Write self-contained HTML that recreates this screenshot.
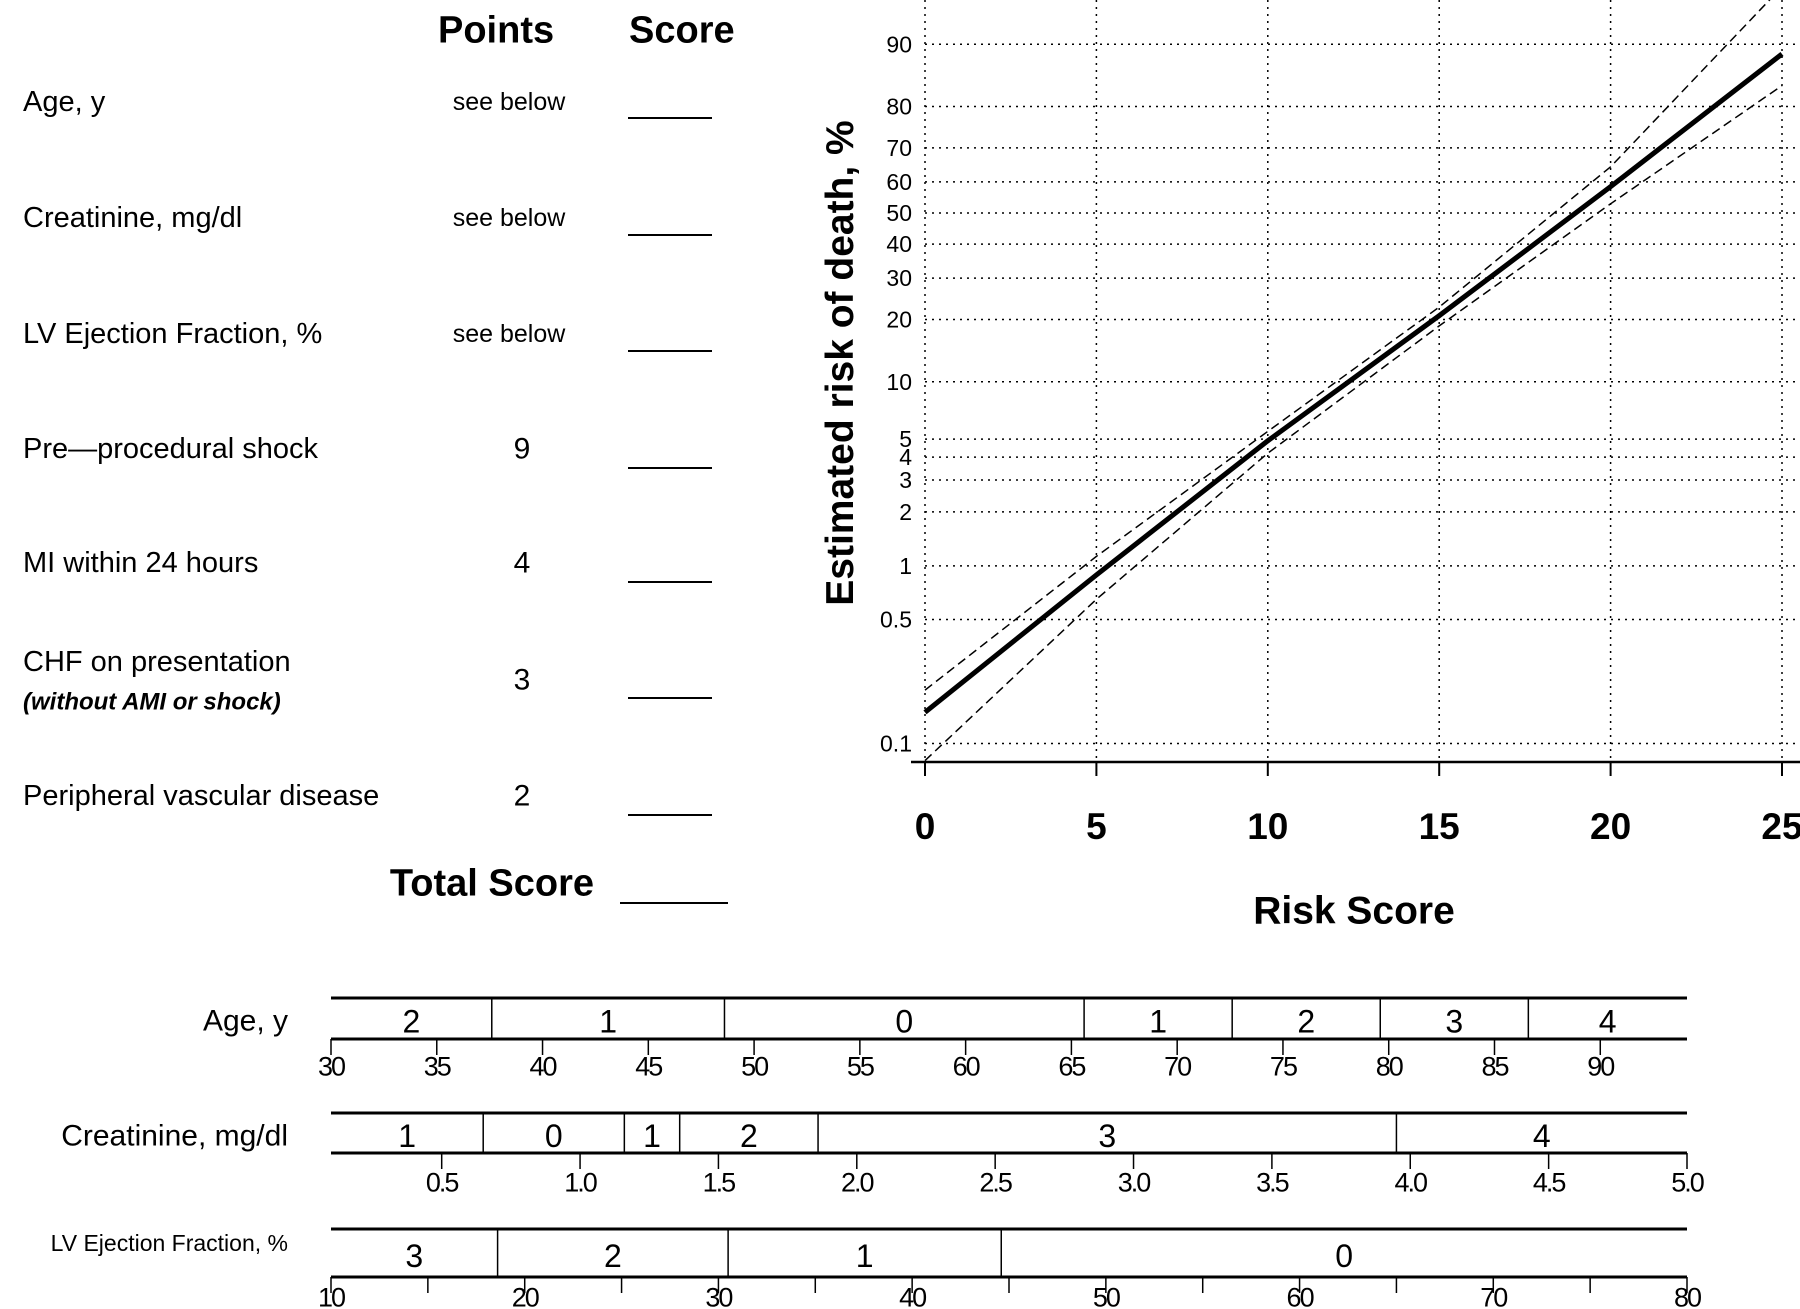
<!DOCTYPE html>
<html><head><meta charset="utf-8"><style>
html,body{margin:0;padding:0;background:#fff;}
svg{display:block;font-family:"Liberation Sans",sans-serif;}
</style></head><body>
<svg id="fig" width="1800" height="1309" viewBox="0 0 1800 1309" xmlns="http://www.w3.org/2000/svg">
<g id="table" fill="#000">
  <text x="438" y="29" dy="0.35em" font-size="38" font-weight="bold">Points</text>
  <text x="629" y="29" dy="0.35em" font-size="38" font-weight="bold">Score</text>
  <text x="23" y="101" dy="0.35em" font-size="29">Age, y</text>
  <text x="23" y="217" dy="0.35em" font-size="29">Creatinine, mg/dl</text>
  <text x="23" y="333" dy="0.35em" font-size="29">LV Ejection Fraction, %</text>
  <text x="23" y="448" dy="0.35em" font-size="29">Pre—procedural shock</text>
  <text x="23" y="562" dy="0.35em" font-size="29">MI within 24 hours</text>
  <text x="23" y="661" dy="0.35em" font-size="29">CHF on presentation</text>
  <text x="23" y="701" dy="0.35em" font-size="24" font-weight="bold" font-style="italic">(without AMI or shock)</text>
  <text x="23" y="795" dy="0.35em" font-size="29">Peripheral vascular disease</text>
  <g font-size="25" text-anchor="middle">
    <text x="509" y="101" dy="0.35em">see below</text>
    <text x="509" y="217" dy="0.35em">see below</text>
    <text x="509" y="333" dy="0.35em">see below</text>
  </g>
  <g font-size="30" text-anchor="middle">
    <text x="522" y="448" dy="0.35em">9</text>
    <text x="522" y="562" dy="0.35em">4</text>
    <text x="522" y="679" dy="0.35em">3</text>
    <text x="522" y="795" dy="0.35em">2</text>
  </g>
  <g stroke="#000" stroke-width="2">
    <line x1="628" x2="712" y1="118" y2="118"/>
    <line x1="628" x2="712" y1="235" y2="235"/>
    <line x1="628" x2="712" y1="351" y2="351"/>
    <line x1="628" x2="712" y1="468" y2="468"/>
    <line x1="628" x2="712" y1="582" y2="582"/>
    <line x1="628" x2="712" y1="698" y2="698"/>
    <line x1="628" x2="712" y1="815" y2="815"/>
    <line x1="620" x2="728" y1="903" y2="903"/>
  </g>
  <text x="594" y="882" dy="0.35em" font-size="38" font-weight="bold" text-anchor="end">Total Score</text>
</g>
<g id="chart"></g>
<g id="scales"></g>
</svg>
<script>
const riskScores = [0, 5, 10, 15, 20, 25];
const riskEstimate = [0.15, 0.89, 4.9, 20.8, 58.5, 88.8];
const riskUpper = [0.2, 1.13, 5.5, 22.7, 64.6, 95];
const riskLower = [0.08, 0.65, 4.2, 18.7, 53, 84];
const xTicks = [0, 5, 10, 15, 20, 25];
const yTicks = [0.1, 0.5, 1, 2, 3, 4, 5, 10, 20, 30, 40, 50, 60, 70, 80, 90];

const ageCuts = [30, 37.6, 48.6, 65.6, 72.6, 79.6, 86.6, 94.1];
const agePoints = [2, 1, 0, 1, 2, 3, 4];
const ageTicks = [30, 35, 40, 45, 50, 55, 60, 65, 70, 75, 80, 85, 90];
const creatCuts = [0.1, 0.65, 1.16, 1.36, 1.86, 3.95, 5.0];
const creatPoints = [1, 0, 1, 2, 3, 4];
const creatTicks = ["0.5", "1.0", "1.5", "2.0", "2.5", "3.0", "3.5", "4.0", "4.5", "5.0"];
const efCuts = [10, 18.6, 30.5, 44.6, 80];
const efPoints = [3, 2, 1, 0];
const efTicks = [10, 15, 20, 25, 30, 35, 40, 45, 50, 55, 60, 65, 70, 75, 80];

const NS = "http://www.w3.org/2000/svg";
function mk(parent, tag, attrs, text) {
  const e = document.createElementNS(NS, tag);
  for (const k in attrs) e.setAttribute(k, attrs[k]);
  if (text !== undefined) e.textContent = text;
  parent.appendChild(e);
  return e;
}
// chart axes
const X0 = 925, X25 = 1782;
const xs = v => X0 + (X25 - X0) * v / 25;
const logit = p => Math.log((p / 100) / (1 - p / 100));
const ys = p => 213 - 76.8 * logit(p);

const chart = document.getElementById('chart');
yTicks.forEach(t => {
  const l = mk(chart, 'line', {x1: X0, x2: 1800, y1: ys(t), y2: ys(t), stroke: '#000', 'stroke-width': 1.5, 'stroke-dasharray': '2 5'});
  
  
  const tx = mk(chart, 'text', {x: 912, y: ys(t), dy: '0.35em', 'font-size': 23, 'text-anchor': 'end'}, String(t));
  
  
});
xTicks.forEach(t => {
  const g = mk(chart, 'line', {x1: xs(t), x2: xs(t), y1: 0, y2: 762, stroke: '#000', 'stroke-width': 1.5, 'stroke-dasharray': '2 5'});
  
  
  const tk = mk(chart, 'line', {x1: xs(t), x2: xs(t), y1: 762, y2: 776, stroke: '#000', 'stroke-width': 2});
  
  
  const tx = mk(chart, 'text', {x: xs(t), y: 826, dy: '0.35em', 'font-size': 37, 'font-weight': 'bold', 'text-anchor': 'middle'}, String(t));
  
  
});
const ax = mk(chart, 'line', {x1: X0 - 14, x2: 1800, y1: 762, y2: 762, stroke: '#000', 'stroke-width': 2.5});


const xt = mk(chart, 'text', {x: 1354, y: 910, dy: '0.35em', 'font-size': 39, 'font-weight': 'bold', 'text-anchor': 'middle'}, 'Risk Score');


const yt = mk(chart, 'text', {x: 0, y: 0, 'font-size': 39, 'font-weight': 'bold', 'text-anchor': 'middle', transform: 'translate(853,363) rotate(-90)'}, 'Estimated risk of death, %');



function series(vals, attrs, name) {
  const d = vals.map((v, i) => (i ? 'L' : 'M') + xs(riskScores[i]).toFixed(1) + ',' + ys(v).toFixed(1)).join(' ');
  const p = mk(chart, 'path', Object.assign({d: d, fill: 'none', stroke: '#000'}, attrs));
  
  
}
series(riskUpper, {'stroke-width': 1.5, 'stroke-dasharray': '9 5'}, 'upper-ci-line');
series(riskLower, {'stroke-width': 1.5, 'stroke-dasharray': '9 5'}, 'lower-ci-line');
series(riskEstimate, {'stroke-width': 5}, 'risk-estimate-line');

// point scales
const scales = document.getElementById('scales');
const BX0 = 331, BX1 = 1687;
function drawScale(cfg) {
  const sx = v => BX0 + (BX1 - BX0) * (v - cfg.min) / (cfg.max - cfg.min);
  const g = mk(scales, 'g', {});
  
  
  const lab = mk(g, 'text', {x: 288, y: cfg.labelY, dy: '0.35em', 'font-size': cfg.labelSize, 'text-anchor': 'end'}, cfg.label);
  
  
  [cfg.top, cfg.bot].forEach(y => {
    const l = mk(g, 'line', {x1: BX0, x2: BX1, y1: y, y2: y, stroke: '#000', 'stroke-width': 3});
    
    
  });
  cfg.points.forEach((p, i) => {
    const a = sx(cfg.cuts[i]), b = sx(cfg.cuts[i + 1]);
    if (i > 0) {
      const d = mk(g, 'line', {x1: a, x2: a, y1: cfg.top, y2: cfg.bot, stroke: '#000', 'stroke-width': 1.5});
      
      
    }
    const t = mk(g, 'text', {x: (a + b) / 2, y: (cfg.top + cfg.bot) / 2 + 3, dy: '0.35em', 'font-size': 32, 'text-anchor': 'middle'}, String(p));
    
    
  });
  cfg.ticks.forEach((tv, i) => {
    const v = parseFloat(tv);
    const x = sx(v);
    const tk = mk(g, 'line', {x1: x, x2: x, y1: cfg.bot, y2: cfg.bot + 16, stroke: '#000', 'stroke-width': 1.5});
    
    
    if (!cfg.every || i % cfg.every === 0) {
      const t = mk(g, 'text', {x: x, y: cfg.tickY, dy: '0.35em', 'font-size': 27, 'text-anchor': 'middle', 'letter-spacing': '-2'}, String(tv));
      
      
    }
  });
}
drawScale({name: 'age-scale', label: 'Age, y', labelY: 1020, labelSize: 30, top: 998, bot: 1039, tickY: 1066,
  min: ageCuts[0], max: ageCuts[ageCuts.length - 1], cuts: ageCuts, points: agePoints, ticks: ageTicks});
drawScale({name: 'creatinine-scale', label: 'Creatinine, mg/dl', labelY: 1135, labelSize: 30, top: 1113, bot: 1153, tickY: 1182,
  min: creatCuts[0], max: creatCuts[creatCuts.length - 1], cuts: creatCuts, points: creatPoints, ticks: creatTicks});
drawScale({name: 'lvef-scale', label: 'LV Ejection Fraction, %', labelY: 1243, labelSize: 23, top: 1229, bot: 1277, tickY: 1297,
  min: efCuts[0], max: efCuts[efCuts.length - 1], cuts: efCuts, points: efPoints, ticks: efTicks, every: 2});
</script>
</body></html>
